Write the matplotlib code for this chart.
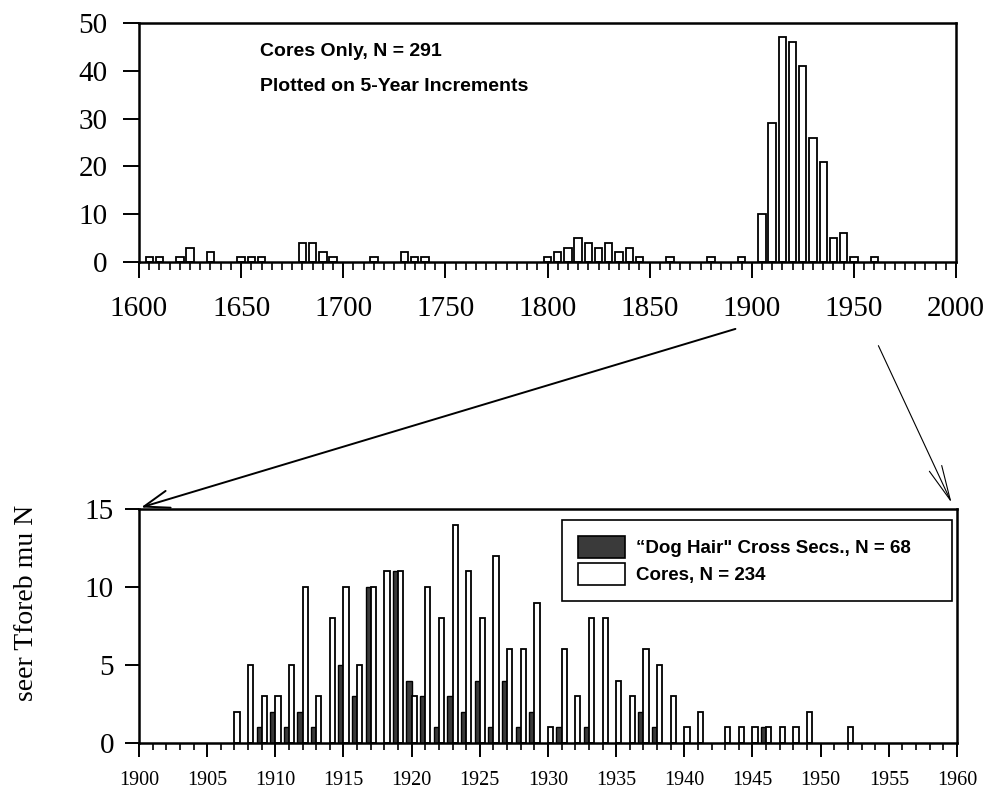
import numpy as np
import matplotlib
matplotlib.use("Agg")
import matplotlib.pyplot as plt
from matplotlib.patches import ConnectionPatch, Patch
from matplotlib.ticker import MultipleLocator

plt.rcParams['font.family'] = ['Liberation Serif', 'DejaVu Serif']

# top panel: cores only, binned on 5-year increments
yr5 = [1605, 1610, 1620, 1625, 1635, 1650, 1655, 1660, 1680, 1685, 1690, 1695,
       1715, 1730, 1735, 1740,
       1800, 1805, 1810, 1815, 1820, 1825, 1830, 1835, 1840, 1845, 1860, 1880, 1895,
       1905, 1910, 1915, 1920, 1925, 1930, 1935, 1940, 1945, 1950, 1960]
n5 = [1, 1, 1, 3, 2, 1, 1, 1, 4, 4, 2, 1,
      1, 2, 1, 1,
      1, 2, 3, 5, 4, 3, 4, 2, 3, 1, 1, 1, 1,
      10, 29, 47, 46, 41, 26, 21, 5, 6, 1, 1]

# bottom panel: annual counts 1900-1960
core_yr = [1907, 1908, 1909, 1910, 1911, 1912, 1913, 1914, 1915, 1916, 1917, 1918,
           1919, 1920, 1921, 1922, 1923, 1924, 1925, 1926, 1927, 1928, 1929, 1930,
           1931, 1932, 1933, 1934, 1935, 1936, 1937, 1938, 1939, 1940, 1941,
           1943, 1944, 1945, 1946, 1947, 1948, 1949, 1952]
core_n = [2, 5, 3, 3, 5, 10, 3, 8, 10, 5, 10, 11,
          11, 3, 10, 8, 14, 11, 8, 12, 6, 6, 9, 1,
          6, 3, 8, 8, 4, 3, 6, 5, 3, 1, 2,
          1, 1, 1, 1, 1, 1, 2, 1]
dog_yr = [1909, 1910, 1911, 1912, 1913, 1915, 1916, 1917, 1919, 1920, 1921, 1922,
          1923, 1924, 1925, 1926, 1927, 1928, 1929, 1931, 1933, 1937, 1938, 1946]
dog_n = [1, 2, 1, 2, 1, 5, 3, 10, 11, 4, 3, 1,
         3, 2, 4, 1, 4, 1, 2, 1, 1, 2, 1, 1]

dog_label = '\u201cDog Hair" Cross Secs., N = 68'
core_label = 'Cores, N = 234'
dark = '#3a3a3a'

W, H = 992, 793
fig = plt.figure(figsize=(W / 100, H / 100), dpi=100)


def px_axes(l, t, r, b):
    return [l / W, 1 - b / H, (r - l) / W, (b - t) / H]


ax1 = fig.add_axes(px_axes(139, 23, 956, 262))
ax2 = fig.add_axes(px_axes(139, 509, 957, 743))

for ax in (ax1, ax2):
    for s in ax.spines.values():
        s.set_linewidth(1.8)

# ---- top panel
ax1.bar(yr5, n5, width=3.6, color='white', edgecolor='black', linewidth=1.3)
ax1.set_xlim(1600, 2000)
ax1.set_ylim(0, 50)
ax1.set_xticks(np.arange(1600, 2001, 50))
ax1.xaxis.set_minor_locator(MultipleLocator(5))
ax1.set_yticks(np.arange(0, 51, 10))
ax1.tick_params(axis='both', which='major', direction='out', length=11.5, width=1.4,
                labelsize=21)
ax1.tick_params(axis='x', which='major', pad=13)
ax1.tick_params(axis='y', which='major', pad=11)
ax1.tick_params(axis='x', which='minor', direction='out', length=6, width=1.2)

ax1.text(0.148, 0.879, 'Cores Only, N = 291', transform=ax1.transAxes,
         family='Liberation Sans', fontweight='bold', fontsize=14, va='center')
ax1.text(0.148, 0.736, 'Plotted on 5-Year Increments', transform=ax1.transAxes,
         family='Liberation Sans', fontweight='bold', fontsize=14, va='center')

# ---- bottom panel
ax2.bar(dog_yr, dog_n, width=-0.38, align='edge', color=dark, edgecolor='black',
        linewidth=1.0)
ax2.bar(core_yr, core_n, width=0.38, align='edge', color='white', edgecolor='black',
        linewidth=1.3)
ax2.set_xlim(1900, 1960)
ax2.set_ylim(0, 15)
ax2.set_xticks(np.arange(1900, 1961, 5))
ax2.xaxis.set_minor_locator(MultipleLocator(1))
ax2.set_yticks([0, 5, 10, 15])
ax2.tick_params(axis='both', which='major', direction='out', length=10, width=1.4)
ax2.tick_params(axis='x', which='major', labelsize=14.5, pad=10)
ax2.tick_params(axis='y', which='major', labelsize=21, pad=8)
ax2.tick_params(axis='x', which='minor', direction='out', length=5, width=1.2)

handles = [Patch(facecolor=dark, edgecolor='black', linewidth=1.2),
           Patch(facecolor='white', edgecolor='black', linewidth=1.2)]
leg = ax2.legend(handles, [dog_label, core_label], loc='upper left',
                 bbox_to_anchor=(0.517, 0.59, 0.477, 0.363), mode='expand',
                 prop={'family': 'Liberation Sans', 'weight': 'bold', 'size': 13.5},
                 handlelength=2.5, handleheight=1.45, labelspacing=0.25,
                 handletextpad=0.6, borderpad=0.85, borderaxespad=0,
                 fancybox=False, framealpha=1)
leg.get_frame().set_edgecolor('black')
leg.get_frame().set_linewidth(1.2)

fig.text(27 / W, 1 - 603 / H, 'seer Tforeb mu N', rotation=90, fontsize=20,
         ha='center', va='center')

# ---- zoom arrows from the top axis to the bottom panel
con1 = ConnectionPatch(xyA=(1892, -14), coordsA=ax1.transData,
                       xyB=(1900.15, 15.1), coordsB=ax2.transData,
                       arrowstyle='->,head_length=1.3,head_width=0.45',
                       mutation_scale=14, linewidth=1.4, color='black')
con2 = ConnectionPatch(xyA=(1962, -17.5), coordsA=ax1.transData,
                       xyB=(1959.6, 15.4), coordsB=ax2.transData,
                       arrowstyle='->,head_length=1.8,head_width=0.35',
                       mutation_scale=14, linewidth=0.8, color='black')
fig.add_artist(con1)
fig.add_artist(con2)

fig.savefig('out.png', dpi=100)
